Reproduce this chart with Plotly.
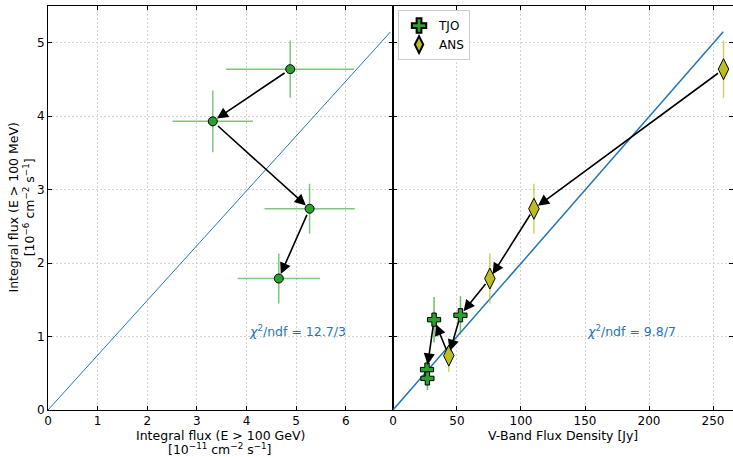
import plotly.graph_objects as go
from plotly.subplots import make_subplots

# ---- data ----
# left panel: VHE vs HE gamma-ray fluxes
vhe_flux = [4.88, 3.32, 5.27, 4.65]
vhe_err = [1.29, 0.81, 0.91, 0.83]
he_flux = [4.64, 3.93, 2.74, 1.79]
he_err = [0.39, 0.42, 0.34, 0.34]
left_order = [0, 1, 2, 3]

# right panel: optical V-band vs HE gamma-ray flux
ans_v = [258.2, 110.1, 75.7, 43.6]
ans_he = [4.64, 2.74, 1.79, 0.74]
ans_err = [0.39, 0.34, 0.34, 0.22]
tjo_v = [52.7, 32.1, 26.6, 26.9]
tjo_he = [1.29, 1.23, 0.55, 0.43]
tjo_err = [0.26, 0.31, 0.18, 0.16]
# chronological arrow path: (series, index)
right_order = [("ANS", 0), ("ANS", 1), ("ANS", 2), ("TJO", 0), ("ANS", 3), ("TJO", 1), ("TJO", 2)]

# linear fits through origin
left_slope, left_xmax = 0.746, 6.9
right_slope, right_xmax = 0.01996, 258.0
left_chi = "<i>χ</i><sup>2</sup>/ndf = 12.7/3"
right_chi = "<i>χ</i><sup>2</sup>/ndf = 9.8/7"

GREEN = "#2ca02c"
OLIVE = "#bcbd22"
BLUE = "#1f77b4"
FONT = "DejaVu Sans"
FS = 12.5
TFS = 12

fig = make_subplots(rows=1, cols=2, horizontal_spacing=0, shared_yaxes=False)

# fit lines
fig.add_trace(go.Scatter(x=[0, left_xmax], y=[0, left_slope * left_xmax], mode="lines",
                         line=dict(color=BLUE, width=1), showlegend=False), 1, 1)
fig.add_trace(go.Scatter(x=[0, right_xmax], y=[0, right_slope * right_xmax], mode="lines",
                         line=dict(color=BLUE, width=1.5), showlegend=False), 1, 2)

# left points
fig.add_trace(go.Scatter(
    x=vhe_flux, y=he_flux, mode="markers",
    error_x=dict(type="data", array=vhe_err, color="rgba(44,160,44,0.6)", thickness=1.5, width=0),
    error_y=dict(type="data", array=he_err, color="rgba(44,160,44,0.6)", thickness=1.5, width=0),
    marker=dict(symbol="circle", size=9, color=GREEN, line=dict(color="black", width=1)),
    showlegend=False), 1, 1)

# right points
fig.add_trace(go.Scatter(
    x=tjo_v, y=tjo_he, mode="markers", name="TJO",
    error_y=dict(type="data", array=tjo_err, color="rgba(44,160,44,0.7)", thickness=1.5, width=0),
    marker=dict(symbol="cross", size=11, color=GREEN, line=dict(color="black", width=1))), 1, 2)
fig.add_trace(go.Scatter(
    x=ans_v, y=ans_he, mode="markers", name="ANS",
    error_y=dict(type="data", array=ans_err, color="rgba(188,189,34,0.7)", thickness=1.5, width=0),
    marker=dict(symbol="diamond-tall", size=15, color=OLIVE, line=dict(color="black", width=1))), 1, 2)

annotations = []

def arrow(x0, y0, x1, y1, xr, yr):
    annotations.append(dict(x=x1, y=y1, ax=x0, ay=y0, xref=xr, yref=yr, axref=xr, ayref=yr,
                            showarrow=True, arrowhead=2, arrowsize=1.4, arrowwidth=1.6,
                            arrowcolor="black", standoff=5, startstandoff=5, text=""))

for a, b in zip(left_order[:-1], left_order[1:]):
    arrow(vhe_flux[a], he_flux[a], vhe_flux[b], he_flux[b], "x", "y")

series = {"ANS": (ans_v, ans_he), "TJO": (tjo_v, tjo_he)}
for (sa, ia), (sb, ib) in zip(right_order[:-1], right_order[1:]):
    arrow(series[sa][0][ia], series[sa][1][ia], series[sb][0][ib], series[sb][1][ib], "x2", "y2")

annotations.append(dict(x=4.0, y=1.07, xref="x", yref="y", text=left_chi, showarrow=False,
                        xanchor="left", yanchor="middle", font=dict(color=BLUE, size=FS, family=FONT)))
annotations.append(dict(x=150, y=1.07, xref="x2", yref="y2", text=right_chi, showarrow=False,
                        xanchor="left", yanchor="middle", font=dict(color=BLUE, size=FS, family=FONT)))
# axis titles (placed as annotations for exact position)
title_font = dict(size=FS, color="black", family=FONT)
annotations.append(dict(x=-0.0401, y=0.5, xref="paper", yref="paper", textangle=-90,
                        text="Integral flux (E > 100 MeV)<br>[10<sup>−6</sup> cm<sup>−2</sup> s<sup>−1</sup>]",
                        showarrow=False, xanchor="center", yanchor="middle", font=title_font))
annotations.append(dict(x=0.2518, y=-0.0619, xref="paper", yref="paper",
                        text="Integral flux (E > 100 GeV)",
                        showarrow=False, xanchor="center", yanchor="middle", font=title_font))
annotations.append(dict(x=0.2518, y=-0.0953, xref="paper", yref="paper",
                        text="[10<sup>−11</sup> cm<sup>−2</sup> s<sup>−1</sup>]",
                        showarrow=False, xanchor="center", yanchor="middle", font=title_font))
annotations.append(dict(x=0.7518, y=-0.0619, xref="paper", yref="paper",
                        text="V-Band Flux Density [Jy]",
                        showarrow=False, xanchor="center", yanchor="middle", font=title_font))

axis_common = dict(showline=True, linecolor="black", linewidth=1, mirror="allticks",
                   ticks="inside", ticklen=4, tickcolor="black",
                   showgrid=True, gridcolor="#d4d4d4", griddash="2px,2px", gridwidth=1,
                   zeroline=False, tickfont=dict(size=TFS, color="black", family=FONT))

fig.update_xaxes(**axis_common)
fig.update_yaxes(**axis_common)
fig.update_xaxes(range=[0, 6.95], dtick=1, domain=[0, 0.5036], row=1, col=1)
fig.update_xaxes(range=[0, 265.6], dtick=50, domain=[0.5036, 1], row=1, col=2)
fig.update_yaxes(range=[0, 5.5], dtick=1, row=1, col=1)
fig.update_yaxes(range=[0, 5.5], dtick=1, showticklabels=False, row=1, col=2)

fig.update_layout(
    width=733, height=457,
    margin=dict(l=48, r=0, t=6, b=47, autoexpand=False),
    plot_bgcolor="white", paper_bgcolor="white",
    font=dict(family=FONT, size=FS, color="black"),
    annotations=annotations,
    legend=dict(x=0.511, y=0.99, xanchor="left", yanchor="top", bgcolor="white",
                bordercolor="#cccccc", borderwidth=1, font=dict(size=12, family=FONT),
                itemsizing="constant"),
)

fig.write_html("out.html", config={"displayModeBar": False},
               post_script="document.body.style.margin='0';document.body.style.overflow='hidden';")
